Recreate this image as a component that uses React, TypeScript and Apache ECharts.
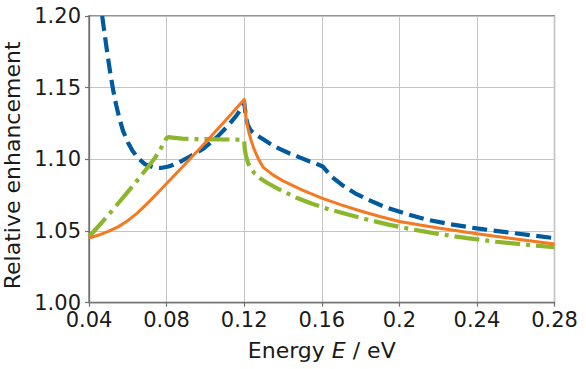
import React, { useEffect, useRef } from "react";
import * as echarts from "echarts";

// x ticks / y ticks
const xTicks = [0.04, 0.08, 0.12, 0.16, 0.2, 0.24, 0.28];
const yTicks = [1.0, 1.05, 1.1, 1.15, 1.2];

// Blue dashed series
const blueX = [0.0468, 0.048, 0.0495, 0.051, 0.0525, 0.054, 0.0555, 0.0575, 0.06, 0.0625, 0.0655, 0.069, 0.073, 0.077, 0.081, 0.086, 0.092, 0.099, 0.106, 0.112, 0.116, 0.1185, 0.12, 0.1205, 0.121, 0.122, 0.1235, 0.1263, 0.13, 0.1332, 0.138, 0.1435, 0.1486, 0.1538, 0.1589, 0.1605, 0.1625, 0.165, 0.1703, 0.1772, 0.185, 0.1934, 0.2035, 0.214, 0.226, 0.24, 0.255, 0.268, 0.28];
const blueY = [1.2, 1.188, 1.1735, 1.16, 1.148, 1.138, 1.1295, 1.12, 1.112, 1.1058, 1.1005, 1.0965, 1.0945, 1.094, 1.095, 1.0975, 1.102, 1.1075, 1.1155, 1.124, 1.1305, 1.1355, 1.14, 1.134, 1.129, 1.1235, 1.12, 1.117, 1.1138, 1.111, 1.1075, 1.1041, 1.1014, 1.0985, 1.096, 1.095, 1.092, 1.088, 1.0823, 1.0763, 1.0712, 1.0663, 1.062, 1.058, 1.0548, 1.0518, 1.0492, 1.047, 1.045];

// Orange solid series
const orangeX = [0.04, 0.045, 0.05, 0.055, 0.06, 0.065, 0.07, 0.075, 0.08, 0.09, 0.1, 0.11, 0.12, 0.1205, 0.121, 0.122, 0.1235, 0.125, 0.1275, 0.13, 0.135, 0.14, 0.15, 0.16, 0.17, 0.18, 0.19, 0.2, 0.22, 0.24, 0.26, 0.28];
const orangeY = [1.045, 1.0472, 1.0497, 1.0529, 1.0572, 1.0627, 1.0691, 1.076, 1.0831, 1.0973, 1.1117, 1.1265, 1.1418, 1.1345, 1.129, 1.121, 1.1135, 1.1075, 1.0998, 1.0942, 1.089, 1.085, 1.0785, 1.0729, 1.0682, 1.064, 1.0601, 1.0566, 1.0521, 1.0481, 1.0444, 1.041];

// Green dash-dot series
const greenX = [0.04, 0.045, 0.05, 0.055, 0.06, 0.065, 0.07, 0.074, 0.077, 0.079, 0.08, 0.081, 0.083, 0.088, 0.095, 0.105, 0.115, 0.1195, 0.12, 0.1203, 0.121, 0.122, 0.1235, 0.1255, 0.128, 0.132, 0.137, 0.142, 0.147, 0.155, 0.164, 0.175, 0.185, 0.195, 0.206, 0.22, 0.235, 0.25, 0.265, 0.28];
const greenY = [1.046, 1.0535, 1.0612, 1.0692, 1.0773, 1.0855, 1.094, 1.101, 1.1075, 1.1125, 1.1148, 1.1155, 1.1152, 1.1145, 1.1141, 1.114, 1.1138, 1.1136, 1.1133, 1.107, 1.102, 1.0975, 1.0935, 1.09, 1.087, 1.0835, 1.0798, 1.0765, 1.0732, 1.069, 1.065, 1.061, 1.0575, 1.0543, 1.0513, 1.048, 1.045, 1.0425, 1.0405, 1.0387];

const zip = (xs: number[], ys: number[]) => xs.map((x, i) => [x, ys[i]]);

const FONT = "DejaVu Sans";
const FS = 21;
const NFS = 22;

export default function App() {
  const ref = useRef<HTMLDivElement>(null);
  useEffect(() => {
    if (!ref.current) return;
    const chart = echarts.init(ref.current, null, { renderer: "svg" });
    const xMin = xTicks[0];
    const xMax = xTicks[xTicks.length - 1];
    const yMin = yTicks[0];
    const yMax = yTicks[yTicks.length - 1];
    chart.setOption({
      animation: false,
      backgroundColor: "#ffffff",
      grid: {
        left: 89,
        top: 16,
        right: 31.5,
        bottom: 66.3,
        outerBoundsMode: "none",
        containLabel: false,
        show: true,
        borderColor: "#707070",
        borderWidth: 1.3,
        backgroundColor: "transparent",
      },
      xAxis: {
        type: "value",
        min: xMin,
        max: xMax,
        interval: 0.04,
        name: "Energy {i|E} / eV",
        nameLocation: "middle",
        nameGap: 37,
        nameTextStyle: {
          fontFamily: FONT,
          fontSize: NFS,
          color: "#1a1a1a",
          rich: {
            i: { fontFamily: FONT, fontSize: NFS, fontStyle: "italic", color: "#1a1a1a" },
          },
        },
        axisLine: { show: true, lineStyle: { color: "#707070", width: 1.3 } },
        axisTick: { show: true, length: 4, lineStyle: { color: "#707070", width: 1.2 } },
        axisLabel: {
          fontFamily: FONT,
          fontSize: FS,
          color: "#1a1a1a",
          margin: 7,
          formatter: (v: number) => String(+v.toFixed(2)),
        },
        splitLine: { show: true, lineStyle: { color: "#c4c4c4", width: 1 } },
      },
      yAxis: {
        type: "value",
        min: yMin,
        max: yMax,
        interval: 0.05,
        name: "Relative enhancement",
        nameLocation: "middle",
        nameRotate: 90,
        nameGap: 63,
        nameTextStyle: { fontFamily: FONT, fontSize: NFS, color: "#1a1a1a", padding: [0, 12, 0, 0] },
        axisLine: { show: true, lineStyle: { color: "#707070", width: 1.3 } },
        axisTick: { show: true, length: 4, lineStyle: { color: "#707070", width: 1.2 } },
        axisLabel: {
          fontFamily: FONT,
          fontSize: FS,
          color: "#1a1a1a",
          margin: 8,
          formatter: (v: number) => v.toFixed(2),
        },
        splitLine: { show: true, lineStyle: { color: "#c4c4c4", width: 1 } },
      },
      series: [
        {
          type: "line",
          data: zip(blueX, blueY),
          showSymbol: false,
          symbol: "none",
          lineStyle: { color: "#005a9e", width: 4.2, type: [15, 6.5], join: "round" },
          z: 2,
        },
        {
          type: "line",
          data: zip(greenX, greenY),
          showSymbol: false,
          symbol: "none",
          lineStyle: { color: "#8cb62c", width: 4.2, type: [25, 6, 4, 6], join: "round" },
          z: 3,
        },
        {
          type: "line",
          data: zip(orangeX, orangeY),
          showSymbol: false,
          symbol: "none",
          lineStyle: { color: "#f47920", width: 3, join: "round" },
          z: 4,
        },
      ],
    });
    return () => chart.dispose();
  }, []);
  return (
    <div
      ref={ref}
      style={{ position: "fixed", left: 0, top: 0, width: 586, height: 369, background: "#fff" }}
    />
  );
}
